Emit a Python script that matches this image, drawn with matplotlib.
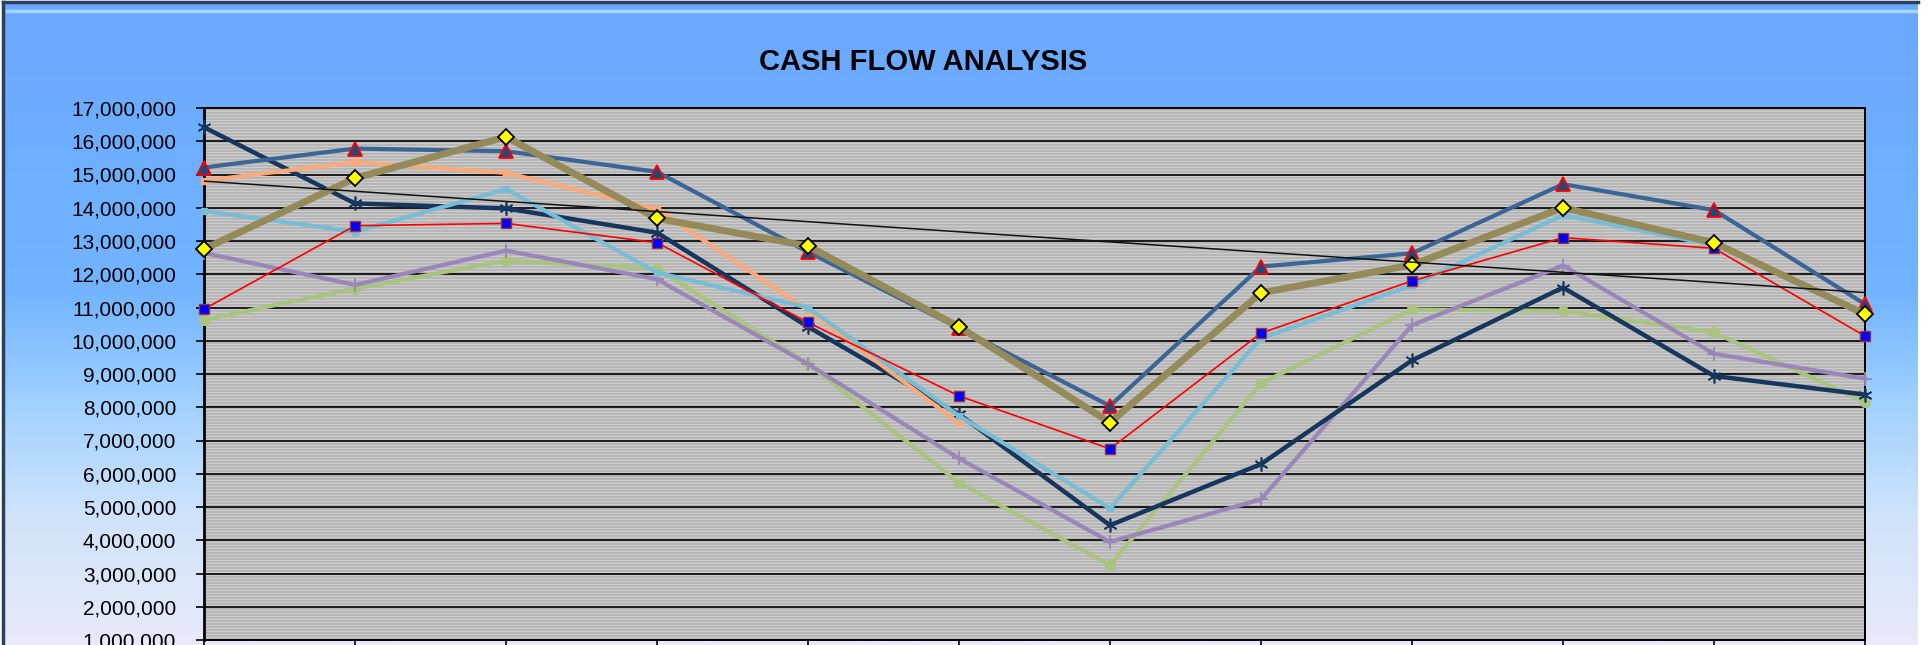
import numpy as np
import matplotlib
matplotlib.use("Agg")
import matplotlib.pyplot as plt
from matplotlib.colors import LinearSegmentedColormap
from matplotlib.ticker import FuncFormatter

plt.rcParams['font.family'] = ['Liberation Sans', 'DejaVu Sans']

# data
periods = ['P1', 'P2', 'P3', 'P4', 'P5', 'P6', 'P7', 'P8', 'P9', 'P10', 'P11', 'P12']
nan = np.nan
s_triangle = [15.21, 15.78, 15.70, 15.08, 12.67, 10.38, 8.04, 12.23, 12.63, 14.71, 13.93, 11.10]
s_diamond = [12.76, 14.89, 16.13, 13.68, 12.85, 10.42, 7.54, 11.44, 12.28, 14.00, 12.95, 10.80]
s_square = [10.95, 13.46, 13.53, 12.95, 10.55, 8.34, 6.75, 10.23, 11.80, 13.10, 12.78, 10.14]
s_lightblue = [13.90, 13.28, 14.56, 12.05, 11.00, 7.74, 4.96, 10.07, 11.67, 13.78, 12.88, nan]
s_star = [16.42, 14.13, 13.98, 13.25, 10.42, 7.79, 4.45, 6.29, 9.41, 11.60, 8.94, 8.38]
s_orange = [14.81, 15.37, 15.05, 13.96, 10.92, 7.52, nan, nan, nan, nan, nan, nan]
s_plus = [12.64, 11.68, 12.71, 11.85, 9.30, 6.46, 3.95, 5.23, 10.47, 12.26, 9.61, 8.86]
s_circle = [10.63, 11.57, 12.41, 12.17, 9.31, 5.73, 3.25, 8.72, 10.94, 10.90, 10.25, 8.15]
trend_idx = [0, 11]
trend_vals = [14.80, 11.45]

M = 1_000_000
x = np.arange(len(periods))

fig = plt.figure(figsize=(19.29, 6.45), dpi=100)
fig.patch.set_facecolor('white')

# chart area background with gradient
bg = fig.add_axes([3 / 1929, 0, 1915 / 1929, 643 / 645])
bg.set_axis_off()
grad_cmap = LinearSegmentedColormap.from_list('bg', [
    (0.0, '#6aa8ff'), (0.45, '#72b4ff'), (0.62, '#9fd0ff'), (0.8, '#cfe3fb'), (1.0, '#e9e9fa')])
bg.imshow(np.linspace(0, 1, 256).reshape(-1, 1), aspect='auto', cmap=grad_cmap,
          extent=[0, 1, 0, 1], origin='upper')
bg.set_xlim(0, 1)
bg.set_ylim(0, 1)
bg.plot([0, 0], [0, 1], color='#2b3f5e', lw=2.5, transform=bg.transAxes, clip_on=False)
bg.plot([0, 1], [1, 1], color='#2b3f5e', lw=2.5, transform=bg.transAxes, clip_on=False)
bg.plot([0.002, 1], [0.986, 0.986], color='#9fd8fb', lw=2.5, transform=bg.transAxes)

fig.text(923 / 1929, 1 - 61.5 / 645, 'CASH FLOW ANALYSIS', ha='center', va='center',
         fontsize=21, fontweight='bold', color='black')

ax = fig.add_axes([204 / 1929, 1 - 640 / 645, 1661 / 1929, 532 / 645])
ax.set_xlim(0, 11)
ax.set_ylim(1 * M, 17 * M)

# striped gray plot area
rows = np.tile([0.80, 0.71, 0.72], 180).reshape(-1, 1)
ax.imshow(rows, aspect='auto', cmap='gray', vmin=0, vmax=1, extent=[0, 11, 1 * M, 17 * M],
          interpolation='nearest', zorder=0)

for v in range(2, 17):
    ax.axhline(v * M, color='#1a1a1a', lw=1.4, zorder=1)


def draw(vals, **kw):
    ax.plot(x, np.array(vals) * M, clip_on=False, **kw)


draw(s_circle, color='#a9c47f', lw=3, marker='o', ms=7, mfc='#a9c47f', mec='#a9c47f', zorder=3)
draw(s_plus, color='#9a86b8', lw=3, marker='+', ms=10, mew=1.3, zorder=3)
draw(s_star, color='#17365d', lw=3.2, marker=(6, 2, 0), ms=10, mew=1.2, mec='#17365d', zorder=3)
draw(s_orange, color='#faaa78', lw=3, marker='s', ms=4, mfc='#faaa78', mec='#faaa78', zorder=3)
draw(s_lightblue, color='#78bcd6', lw=3, marker='s', ms=4, mfc='#78bcd6', mec='#78bcd6', zorder=3)
draw(s_square, color='#ff0000', lw=1.2, marker='s', ms=6.5, mfc='#0000ff', mec='#993333', mew=1, zorder=4)
draw(s_triangle, color='#3b6596', lw=3, marker='^', ms=10, mfc='#1f497d', mec='#ff0000', mew=1.3, zorder=4)
draw(s_diamond, color='#958b5a', lw=5, marker='D', ms=8.5, mfc='#ffff00', mec='#000000', mew=1.3, zorder=5)
ax.plot(trend_idx, np.array(trend_vals) * M, color='#111111', lw=1.1, zorder=6)

ax.set_yticks(np.arange(1, 18) * M)
ax.yaxis.set_major_formatter(FuncFormatter(lambda v, p: f'{int(round(v)):,}'))
ax.set_xticks(x)
ax.set_xticklabels([''] * len(periods))
ax.tick_params(axis='y', direction='out', length=6, width=1.2, labelsize=15, pad=14)
ax.tick_params(axis='x', direction='out', length=6, width=1.2)
for side in ['left', 'right', 'top', 'bottom']:
    ax.spines[side].set_color('black')
    ax.spines[side].set_linewidth(1.4)
ax.spines['left'].set_linewidth(2)

fig.savefig('out.png', dpi=100, facecolor=fig.get_facecolor())
